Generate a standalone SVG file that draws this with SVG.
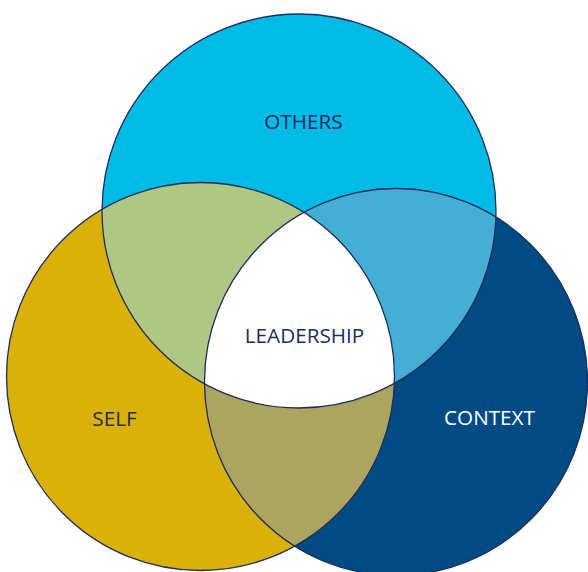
<svg xmlns="http://www.w3.org/2000/svg" width="588" height="572" viewBox="0 0 588 572">
  <style>
    .lbl { font-family: "Open Sans", "Liberation Sans", sans-serif; font-size: 20.7px; text-anchor: middle; fill: #1F2D5C; }
    .light { fill: #FFFFFF; }
    .outline { fill: none; stroke: #1F2D5C; stroke-width: 1.3; }
  </style>
  <defs>
    <clipPath id="clipTop"><circle cx="299" cy="211" r="197"/></clipPath>
    <clipPath id="clipLeft"><circle cx="200.5" cy="376.5" r="194"/></clipPath>
    <clipPath id="clipRight"><ellipse cx="396" cy="382" rx="191.5" ry="193.5"/></clipPath>
  </defs>
  <rect width="588" height="572" fill="#FFFFFF"/>

  <g id="others">
    <circle cx="299" cy="211" r="197" fill="#00BBE6"/>
    <text class="lbl" x="303.5" y="128.5">OTHERS</text>
  </g>
  <g id="self">
    <circle cx="200.5" cy="376.5" r="194" fill="#DAB108"/>
    <text class="lbl" x="114.5" y="425.5">SELF</text>
  </g>
  <g id="context">
    <ellipse cx="396" cy="382" rx="191.5" ry="193.5" fill="#004B84"/>
    <text class="lbl light" x="489.5" y="425">CONTEXT</text>
  </g>

  <g id="overlaps">
    <g clip-path="url(#clipTop)">
      <circle cx="200.5" cy="376.5" r="194" fill="#AEC783"/>
      <ellipse cx="396" cy="382" rx="191.5" ry="193.5" fill="#44AED5"/>
    </g>
    <g clip-path="url(#clipLeft)">
      <ellipse cx="396" cy="382" rx="191.5" ry="193.5" fill="#ACA55F"/>
    </g>
  </g>

  <g id="leadership">
    <g clip-path="url(#clipTop)">
      <g clip-path="url(#clipLeft)">
        <ellipse cx="396" cy="382" rx="191.5" ry="193.5" fill="#FFFFFF"/>
      </g>
    </g>
    <text class="lbl" x="304.5" y="343.3">LEADERSHIP</text>
  </g>

  <g id="connectors">
    <circle class="outline" cx="299" cy="211" r="197"/>
    <circle class="outline" cx="200.5" cy="376.5" r="194"/>
    <ellipse class="outline" cx="396" cy="382" rx="191.5" ry="193.5"/>
  </g>
</svg>
